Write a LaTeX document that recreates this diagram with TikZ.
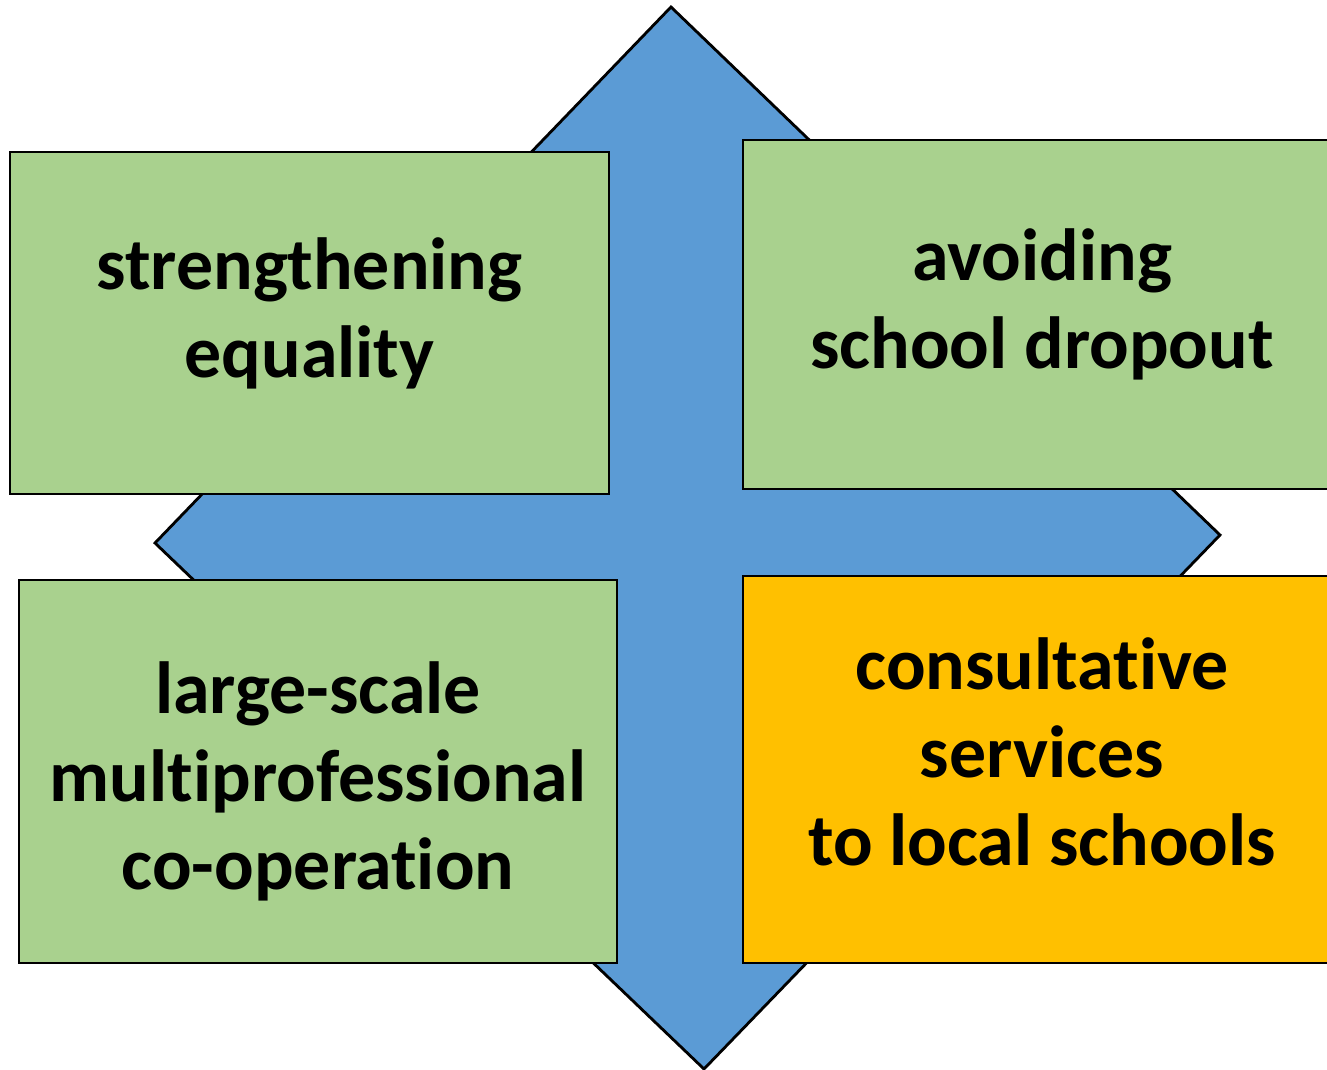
\documentclass[tikz,border=0pt]{standalone}
\usepackage{fontspec}
\setmainfont{Carlito}[Ligatures=NoCommon]
\usepackage{tikz}

\definecolor{arrowblue}{HTML}{5B9BD5}
\definecolor{boxgreen}{HTML}{A9D18E}
\definecolor{boxorange}{HTML}{FFC000}

\begin{document}
\begin{tikzpicture}[x=0.01cm, y=-0.01cm,
  box/.style={draw=black, line width=0.5pt, inner sep=0pt},
  boxtext/.style={align=center, inner sep=0pt,
    font=\fontsize{21}{25}\selectfont\bfseries}]

% Frame of the picture
\clip (0,0) rectangle (1327,1070);

% Draw the blue four-way shape behind the boxes
\draw [line width=0.8pt, fill=arrowblue] (671,7) -- (1220,535) -- (704,1069) -- (155,543) -- cycle;

% Draw the four boxes
\node [box, fill=boxgreen, minimum width=5.99cm, minimum height=3.42cm] (equality) at (309.5,323) {};
\node [box, fill=boxgreen, minimum width=5.98cm, minimum height=3.49cm] (dropout) at (1042,314.5) {};
\node [box, fill=boxgreen, minimum width=5.98cm, minimum height=3.83cm] (cooperation) at (318,771.5) {};
\node [box, fill=boxorange, minimum width=5.98cm, minimum height=3.87cm] (services) at (1042,769.5) {};

% Texts of the boxes
\node [boxtext] (equalitytext) at ([yshift=0.1cm]equality.center) {strengthening\\equality};
\node [boxtext] (dropouttext) at ([yshift=0.1cm]dropout.center) {avoiding\\school dropout};
\node [boxtext] (cooperationtext) at ([yshift=-0.1cm]cooperation.center) {large-scale\\multiprofessional\\co-operation};
\node [boxtext] (servicestext) at ([yshift=0.18cm]services.center) {consultative\\services\\to local schools};

\end{tikzpicture}
\end{document}
